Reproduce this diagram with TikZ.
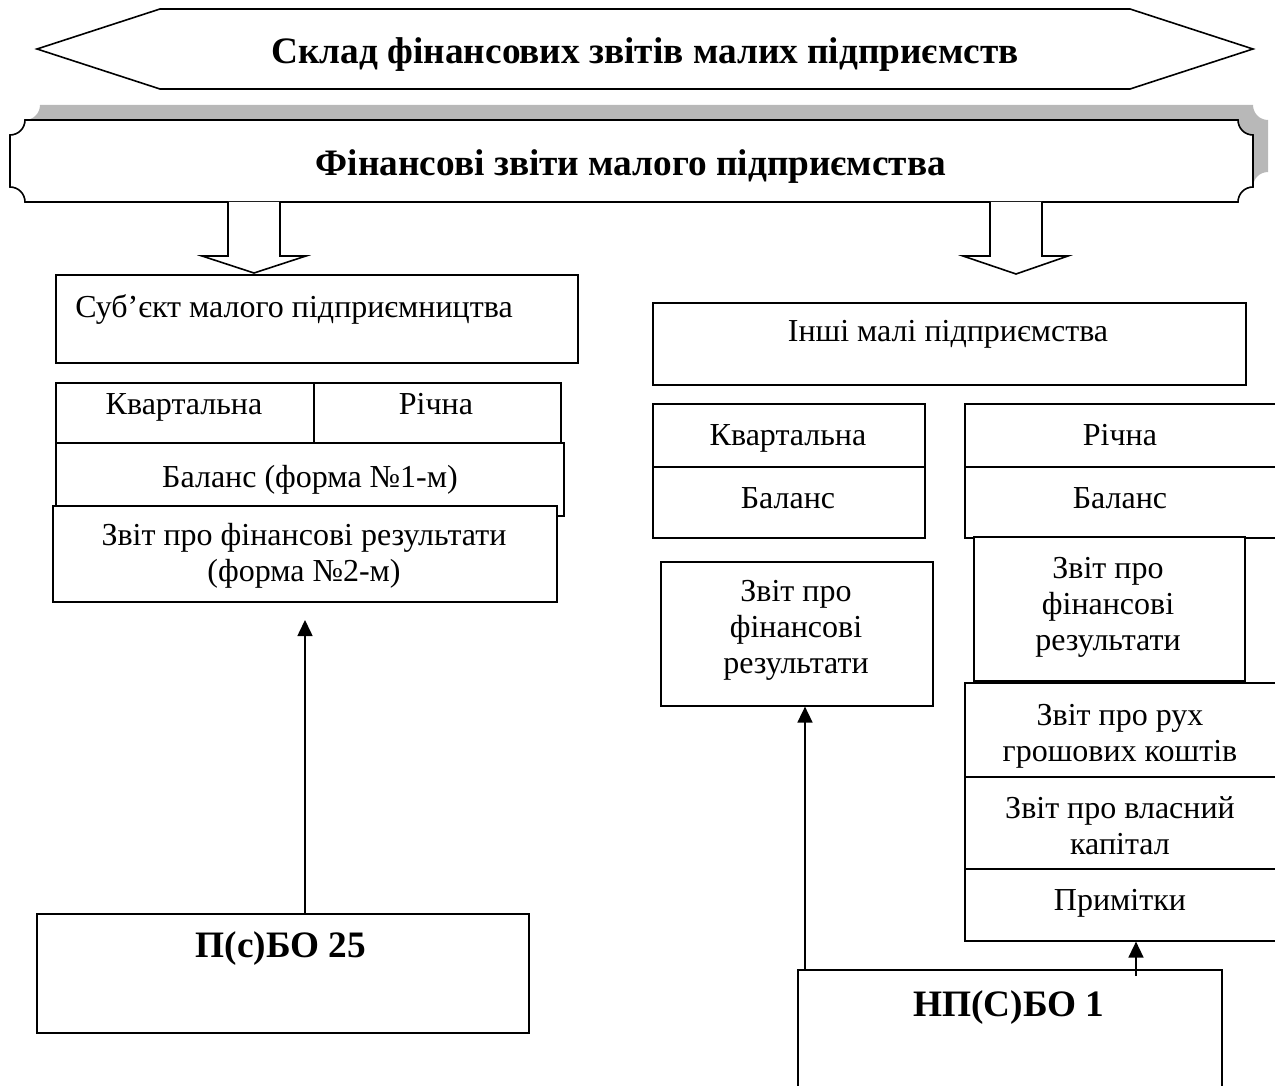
\documentclass[tikz,border=0pt]{standalone}
\usepackage{fontspec}
\setmainfont{Liberation Serif}
\usetikzlibrary{arrows.meta}
\tikzset{
  box/.style={draw, line width=1.6pt, fill=white, rectangle, inner sep=0pt, anchor=north west},
  txt/.style={font=\fontsize{32}{36}\selectfont, align=center, inner sep=0pt},
  one/.style={txt, text height=22.4pt, text depth=6.4pt},
  btxt/.style={font=\bfseries\fontsize{37.3}{42}\selectfont, align=center, inner sep=0pt, text height=26pt, text depth=7.5pt},
  conn/.style={line width=1.6pt, -{Triangle[width=15pt,length=16pt]}},
  outline/.style={line width=1.6pt, fill=white},
  shade/.style={fill=black!28},
}
\begin{document}
\begin{tikzpicture}[x=1pt,y=1pt]
\useasboundingbox (0,0) rectangle (1275,-1086);
\clip (0,0) rectangle (1275,-1086);
% top banner
\draw[outline] (37,-49) -- (160,-9) -- (1130,-9) -- (1253,-49) -- (1130,-89) -- (160,-89) -- cycle;
\node[btxt] (title) at (645,-54) {Склад фінансових звітів малих підприємств};
% plaque shadow
\path[shade] (40,-105) -- (1253,-105) arc[start angle=180,end angle=270,radius=15]
  -- (1268,-172) arc[start angle=90,end angle=180,radius=15]
  -- (40,-187) arc[start angle=0,end angle=90,radius=15]
  -- (25,-120) arc[start angle=270,end angle=360,radius=15] -- cycle;
% plaque
\draw[outline] (25,-120) -- (1238,-120) arc[start angle=180,end angle=270,radius=15]
  -- (1253,-187) arc[start angle=90,end angle=180,radius=15]
  -- (25,-202) arc[start angle=0,end angle=90,radius=15]
  -- (10,-135) arc[start angle=270,end angle=360,radius=15] -- cycle;
\node[btxt] (fin) at (631,-166) {Фінансові звіти малого підприємства};
% block arrows
\draw[outline] (228,-202) -- (228,-256) -- (202,-256) -- (254,-273) -- (306,-256) -- (280,-256) -- (280,-202);
\draw[outline] (990,-202) -- (990,-256) -- (963,-256) -- (1016,-274) -- (1068,-256) -- (1042,-256) -- (1042,-202);

% ---- left column ----
\node[box, minimum width=522, minimum height=88] (sub) at (55,-274) {};
\node[one] (tsub) at (294,-309) {Суб’єкт малого підприємництва};
\node[box, minimum width=258, minimum height=60] (kvL) at (55,-382) {};
\node[box, minimum width=247, minimum height=60] (riL) at (313,-382) {};
\node[one] (tkvL) at (184,-406) {Квартальна};
\node[one] (triL) at (436,-406) {Річна};
\node[box, minimum width=508, minimum height=73] (balL) at (55,-442) {};
\node[one] (tbalL) at (310,-479) {Баланс (форма №1-м)};
\node[box, minimum width=504, minimum height=96] (zvitA) at (52,-505) {};
\node[txt] (tzvitA) at (304,-556) {Звіт про фінансові результати\\(форма №2-м)};
\node[box, minimum width=492, minimum height=119] (pbo) at (36,-913) {};
\node[btxt] (tpbo) at (281,-948) {П(с)БО 25};
\coordinate (pend) at (305,-620);
\draw[conn] (pbo.north -| pend) -- (pend);

% ---- right column ----
\node[box, minimum width=593, minimum height=82] (inshi) at (652,-302) {};
\node[one] (tinshi) at (948,-333) {Інші малі підприємства};
\node[box, minimum width=272, minimum height=63] (kvR) at (652,-403) {};
\node[box, minimum width=272, minimum height=71] (balR) at (652,-466) {};
\node[one] (tkvR) at (788,-437) {Квартальна};
\node[one] (tbalR) at (788,-500) {Баланс};
\node[box, minimum width=313, minimum height=63] (riR) at (964,-403) {};
\node[box, minimum width=313, minimum height=71] (balR2) at (964,-466) {};
\node[one] (triR) at (1120,-437) {Річна};
\node[one] (tbalR2) at (1120,-500) {Баланс};
\node[box, minimum width=272, minimum height=144] (zvitB) at (660,-561) {};
\node[txt] (tzvitB) at (796,-630) {Звіт про\\фінансові\\результати};
\node[box, minimum width=271, minimum height=144] (zvitC) at (973,-536) {};
\node[txt] (tzvitC) at (1108,-607) {Звіт про\\фінансові\\результати};
\node[box, minimum width=313, minimum height=94] (rux) at (964,-682) {};
\node[txt] (trux) at (1120,-736) {Звіт про рух\\грошових коштів};
\node[box, minimum width=313, minimum height=92] (kap) at (964,-776) {};
\node[txt] (tkap) at (1120,-826) {Звіт про власний\\капітал};
\node[box, minimum width=313, minimum height=72] (prim) at (964,-868) {};
\node[one] (tprim) at (1120,-902) {Примітки};
\node[box, minimum width=424, minimum height=140] (np) at (797,-969) {};
\node[btxt] (tnp) at (1009,-1007) {НП(С)БО 1};
\coordinate (nl) at (805,-969);
\coordinate (nr) at (1136,-976);
\draw[conn] (nl) -- (zvitB.south -| nl);
\draw[conn] (nr) -- (prim.south -| nr);
\end{tikzpicture}
\end{document}
